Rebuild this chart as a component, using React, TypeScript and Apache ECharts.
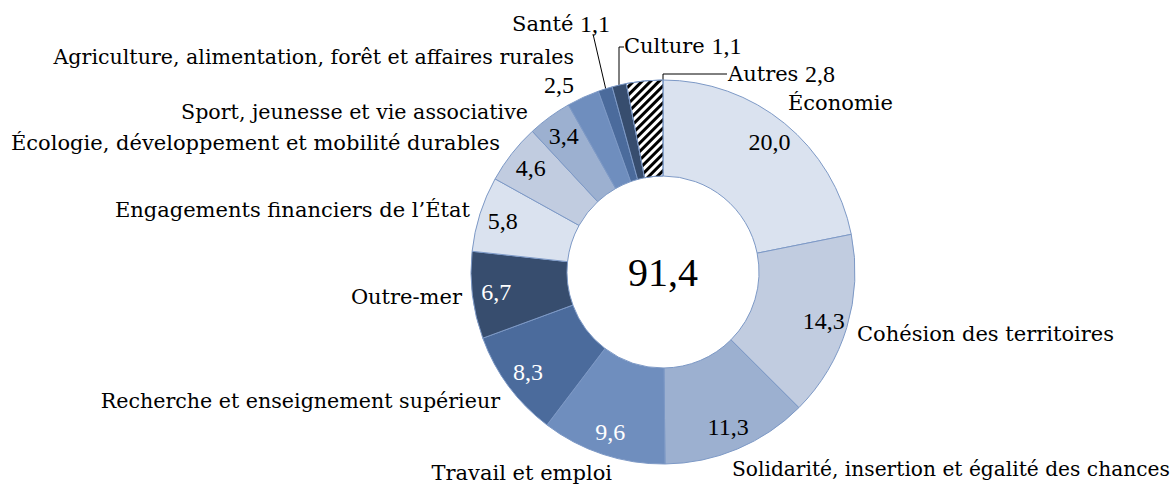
import React, { useEffect, useRef } from 'react';
import * as echarts from 'echarts';

const categories = [
  'Économie',
  'Cohésion des territoires',
  'Solidarité, insertion et égalité des chances',
  'Travail et emploi',
  'Recherche et enseignement supérieur',
  'Outre-mer',
  'Engagements financiers de l’État',
  'Écologie, développement et mobilité durables',
  'Sport, jeunesse et vie associative',
  'Agriculture, alimentation, forêt et affaires rurales',
  'Santé',
  'Culture',
  'Autres',
];
const values = [20.0, 14.3, 11.3, 9.6, 8.3, 6.7, 5.8, 4.6, 3.4, 2.5, 1.1, 1.1, 2.8];
const totalLabel = '91,4';
// where the value is written: inside the ring, under the name, or after the name
const valueModes = ['inside', 'inside', 'inside', 'inside', 'inside', 'inside', 'inside', 'inside', 'inside', 'below', 'inline', 'inline', 'inline'];

// styles
const colors = ['#dae2ef', '#c1cce0', '#9cb0d0', '#6f8ebe', '#4b6b9c', '#374d6e', '#dae2ef', '#c1cce0', '#9cb0d0', '#6f8ebe', '#4b6b9c', '#374d6e', '#ffffff'];
const whiteValue = [false, false, false, true, true, true, false, false, false, false, false, false, false];
const nameSizes = [21, 21, 20.2, 21, 20.6, 21, 21, 21, 20.6, 20.6, 21, 21, 21];
const namePos: [number, number, string][] = [
  [788, 103, 'left'],
  [857, 334, 'left'],
  [732, 469, 'left'],
  [612, 473, 'right'],
  [500, 401, 'right'],
  [462, 297, 'right'],
  [470, 210, 'right'],
  [500, 143, 'right'],
  [528, 112, 'right'],
  [574, 71, 'right'],
  [610, 24, 'right'],
  [624, 46, 'left'],
  [728, 74, 'left'],
];
const leaderLines: (number[][] | null)[] = [
  null, null, null, null, null, null, null, null, null, null,
  [[606, 90], [593, 34]],
  [[619, 88], [619, 47], [624, 47]],
  [[663, 81], [663, 74], [727, 74]],
];

const CX = 663;
const CY = 272;
const R0 = 96;
const R1 = 192;
const NAME_FONT = 'DejaVu Serif, serif';
const NUM_FONT = 'Liberation Serif, serif';
const NUM_FS = 24;

const fmt = (v: number) => v.toFixed(1).replace('.', ',');

export default function App() {
  const ref = useRef<HTMLDivElement>(null);
  useEffect(() => {
    if (!ref.current) return;
    const chart = echarts.init(ref.current, undefined, { renderer: 'svg' });

    const mainData = categories.map((name, i) => ({
      name,
      value: values[i],
      itemStyle: i === 12
        ? {
            color: '#ffffff',
            decal: {
              symbol: 'rect',
              symbolSize: 1,
              dashArrayX: [1, 0],
              dashArrayY: [2.5, 2.5],
              rotation: -Math.PI / 4,
              color: '#000000',
            },
          }
        : { color: colors[i] },
      labelLine: { show: leaderLines[i] != null },
      label: {
        rich: {
          n: { fontFamily: NAME_FONT, fontSize: nameSizes[i], color: '#000000', lineHeight: 28 },
          v: { fontFamily: NUM_FONT, fontSize: NUM_FS, color: '#000000', lineHeight: 28 },
        },
      },
    }));

    const valueData = categories.map((name, i) => ({
      name,
      value: values[i],
      label: {
        show: valueModes[i] === 'inside',
        color: whiteValue[i] ? '#ffffff' : '#000000',
      },
    }));

    chart.setOption({
      animation: false,
      backgroundColor: '#ffffff',
      series: [
        {
          type: 'pie',
          center: [CX, CY],
          radius: [R0, R1],
          startAngle: 90,
          clockwise: true,
          avoidLabelOverlap: false,
          silent: true,
          itemStyle: { borderColor: '#7d99c6', borderWidth: 1 },
          label: {
            show: true,
            position: 'outside',
            color: '#000000',
            formatter: (p: any) => {
              const i = p.dataIndex;
              if (valueModes[i] === 'below') return '{n|' + p.name + '}\n{v|' + fmt(values[i]) + '}';
              if (valueModes[i] === 'inline') return '{n|' + p.name + ' }{v|' + fmt(values[i]) + '}';
              return '{n|' + p.name + '}';
            },
          },
          labelLine: { show: false, lineStyle: { color: '#000000', width: 1 } },
          labelLayout: (params: any) => {
            const i = params.dataIndex;
            const [x, y, align] = namePos[i];
            const o: any = { x, y, align, verticalAlign: 'middle' };
            if (leaderLines[i]) o.labelLinePoints = leaderLines[i];
            return o;
          },
          data: mainData,
        },
        {
          type: 'pie',
          center: [CX, CY],
          radius: [138, R1],
          startAngle: 90,
          clockwise: true,
          silent: true,
          avoidLabelOverlap: false,
          itemStyle: { color: 'rgba(0,0,0,0)', borderWidth: 0 },
          label: {
            position: 'inside',
            fontFamily: NUM_FONT,
            fontSize: NUM_FS,
            formatter: (p: any) => fmt(p.value),
          },
          labelLine: { show: false },
          data: valueData,
        },
      ],
      graphic: [
        {
          type: 'text',
          x: CX,
          y: CY,
          style: {
            text: totalLabel,
            fontFamily: NUM_FONT,
            fontSize: 40,
            fill: '#000000',
            align: 'center',
            verticalAlign: 'middle',
          },
        },
      ],
    });
    return () => chart.dispose();
  }, []);
  return (
    <div
      ref={ref}
      style={{ position: 'fixed', left: 0, top: 0, width: 1176, height: 486, background: '#fff' }}
    />
  );
}
